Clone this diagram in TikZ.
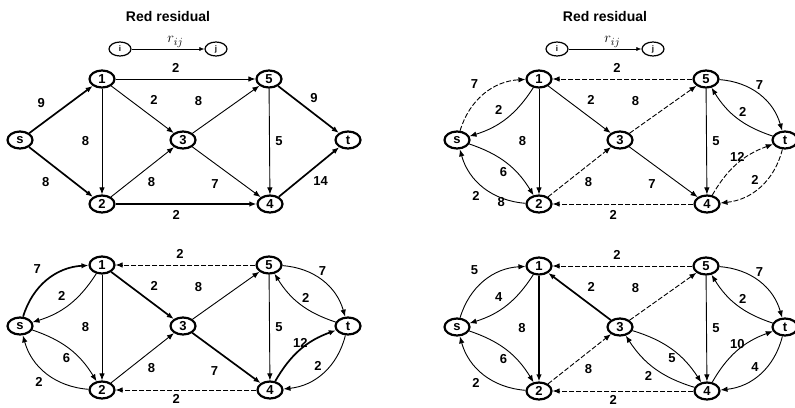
\documentclass[tikz,border=0pt]{standalone}
\usepackage{fontspec}
\setmainfont{Liberation Sans}
\usetikzlibrary{shapes.geometric,arrows.meta}

\newcommand{\wtfont}{\fontsize{13}{15}\selectfont\bfseries}

\newcommand{\netnodes}[1]{%
  \node[vtx] (#1-s) at (20,140) {s};
  \node[vtx] (#1-1) at (102,79) {1};
  \node[vtx] (#1-2) at (102,204) {2};
  \node[vtx] (#1-3) at (183,140) {3};
  \node[vtx] (#1-4) at (270,204) {4};
  \node[vtx] (#1-5) at (269,79) {5};
  \node[vtx] (#1-t) at (348,140) {t};
}

\newcommand{\netlegend}[1]{%
  \node[font=\fontsize{14}{16}\selectfont\bfseries] (#1-title) at (168,16) {Red residual};
  \node[tag] (#1-i) at (120,49) {i};
  \node[tag] (#1-j) at (216,49) {j};
  \draw[legendarc] (#1-i) -- node[pos=.6, above=0pt, font=\fontsize{15}{16}\selectfont] {$r_{ij}$} (#1-j);
}

\begin{document}
\begin{tikzpicture}[x=1pt, y=-1pt,
  every node/.style={font=\wtfont, inner sep=1.5pt},
  vtx/.style={ellipse, draw, line width=2.2pt, minimum width=25pt, minimum height=17pt, inner sep=0pt},
  tag/.style={ellipse, draw, line width=1.2pt, minimum width=22pt, minimum height=14pt, inner sep=0pt, font=\fontsize{8}{9}\selectfont\bfseries},
  legendarc/.style={-{Latex[length=5pt,width=4pt]}, line width=0.6pt},
  resid/.style={-{Latex[length=7pt,width=5.5pt]}, line width=0.9pt},
  flow/.style={-{Latex[length=7pt,width=5.5pt]}, line width=1.7pt},
  rev/.style={-{Latex[length=7pt,width=5.5pt]}, line width=0.9pt, dash pattern=on 5pt off 2pt}]
  \useasboundingbox (0,0) rectangle (795,407);

  \begin{scope}
    \netlegend{a}
    \netnodes{a}
    \draw[flow] (a-s) -- node[pos=.37, above left=5.5pt] {9} (a-1);
    \draw[flow] (a-s) -- node[pos=.45, below left=6pt] {8} (a-2);
    \draw[resid] (a-1) -- node[pos=.43, above=5pt] {2} (a-5);
    \draw[resid] (a-1) -- node[left=11pt] {8} (a-2);
    \draw[resid] (a-1) -- node[pos=.53, above right=4pt] {2} (a-3);
    \draw[resid] (a-3) -- node[pos=.32, above left=10pt] {8} (a-5);
    \draw[resid] (a-5) -- node[right=4pt] {5} (a-4);
    \draw[flow] (a-5) -- node[pos=.45, above right=2.5pt] {9} (a-t);
    \draw[resid] (a-2) -- node[below right=3.5pt] {8} (a-3);
    \draw[resid] (a-3) -- node[below left=6pt] {7} (a-4);
    \draw[flow] (a-4) -- node[below right=2pt] {14} (a-t);
    \draw[flow] (a-2) -- node[pos=.43, below=4pt] {2} (a-4);
  \end{scope}

  \begin{scope}[shift={(437,0)}]
    \netlegend{b}
    \netnodes{b}
    \draw[rev] (b-s) to[bend left=35] node[above left=4pt] {7} (b-1);
    \draw[resid] (b-1) to[bend left=20] node[above left=2pt] {2} (b-s);
    \draw[resid] (b-s) to[bend left=20] node[pos=.45, below=5pt] {6} (b-2);
    \draw[resid] (b-2) to[bend left=35] node[below left=2pt] {2} node[pos=.1, left=9pt] {8} (b-s);
    \draw[rev] (b-5) -- node[pos=.54, above=5pt] {2} (b-1);
    \draw[resid] (b-1) -- node[left=11pt] {8} (b-2);
    \draw[resid] (b-1) -- node[pos=.53, above right=4pt] {2} (b-3);
    \draw[rev] (b-3) -- node[pos=.32, above left=10pt] {8} (b-5);
    \draw[resid] (b-5) -- node[right=4pt] {5} (b-4);
    \draw[resid] (b-5) to[bend left=35] node[above=3pt] {7} (b-t);
    \draw[resid] (b-t) to[bend left=20] node[above right=0pt] {2} (b-5);
    \draw[rev] (b-2) -- node[below right=3.5pt] {8} (b-3);
    \draw[resid] (b-3) -- node[below left=6pt] {7} (b-4);
    \draw[rev] (b-4) to[bend left=20] node[above=0pt] {12} (b-t);
    \draw[rev] (b-t) to[bend left=35] node[above left=0pt] {2} (b-4);
    \draw[rev] (b-4) -- node[pos=.57, below=4pt] {2} (b-2);
  \end{scope}

  \begin{scope}[shift={(0,186)}]
    \netnodes{c}
    \draw[flow] (c-s) to[bend left=35] node[above left=4pt] {7} (c-1);
    \draw[resid] (c-1) to[bend left=20] node[above left=2pt] {2} (c-s);
    \draw[resid] (c-s) to[bend left=20] node[pos=.45, below=5pt] {6} (c-2);
    \draw[resid] (c-2) to[bend left=35] node[below left=2pt] {2} (c-s);
    \draw[rev] (c-5) -- node[pos=.54, above=5pt] {2} (c-1);
    \draw[resid] (c-1) -- node[left=11pt] {8} (c-2);
    \draw[flow] (c-1) -- node[pos=.53, above right=4pt] {2} (c-3);
    \draw[resid] (c-3) -- node[pos=.32, above left=10pt] {8} (c-5);
    \draw[resid] (c-5) -- node[right=4pt] {5} (c-4);
    \draw[resid] (c-5) to[bend left=35] node[above=3pt] {7} (c-t);
    \draw[resid] (c-t) to[bend left=20] node[above right=0pt] {2} (c-5);
    \draw[resid] (c-2) -- node[below right=3.5pt] {8} (c-3);
    \draw[flow] (c-3) -- node[below left=6pt] {7} (c-4);
    \draw[flow] (c-4) to[bend left=20] node[above=0pt] {12} (c-t);
    \draw[resid] (c-t) to[bend left=35] node[above left=0pt] {2} (c-4);
    \draw[rev] (c-4) -- node[pos=.57, below=2.5pt] {2} (c-2);
  \end{scope}

  \begin{scope}[shift={(437,187)}]
    \netnodes{d}
    \draw[resid] (d-s) to[bend left=35] node[above left=4pt] {5} (d-1);
    \draw[resid] (d-1) to[bend left=20] node[above left=2pt] {4} (d-s);
    \draw[resid] (d-s) to[bend left=20] node[pos=.45, below=5pt] {6} (d-2);
    \draw[resid] (d-2) to[bend left=35] node[below left=2pt] {2} (d-s);
    \draw[rev] (d-5) -- node[pos=.54, above=5pt] {2} (d-1);
    \draw[flow] (d-1) -- node[left=11pt] {8} (d-2);
    \draw[flow] (d-3) -- node[pos=.47, above right=4pt] {2} (d-1);
    \draw[rev] (d-3) -- node[pos=.32, above left=10pt] {8} (d-5);
    \draw[resid] (d-5) -- node[right=4pt] {5} (d-4);
    \draw[resid] (d-5) to[bend left=35] node[above=3pt] {7} (d-t);
    \draw[resid] (d-t) to[bend left=20] node[above right=0pt] {2} (d-5);
    \draw[rev] (d-2) -- node[below right=3.5pt] {8} (d-3);
    \draw[resid] (d-3) to[bend left=20] node[below=2pt] {5} (d-4);
    \draw[resid] (d-4) to[bend left=20] node[below left=1pt] {2} (d-3);
    \draw[resid] (d-4) to[bend left=20] node[above=0pt] {10} (d-t);
    \draw[resid] (d-t) to[bend left=35] node[above left=0pt] {4} (d-4);
    \draw[rev] (d-4) -- node[pos=.57, below=2.5pt] {2} (d-2);
  \end{scope}
\end{tikzpicture}
\end{document}
